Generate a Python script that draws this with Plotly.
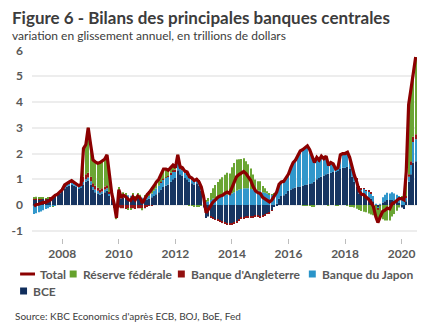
import pandas as pd
import plotly.graph_objects as go

# ---- data: year-on-year change in balance sheets, trillions of USD (monthly, Jan 2007 - Jul 2020)
months = pd.date_range("2007-01-01", periods=163, freq="MS")

total = [
    -0.05, 0.02, 0.03, 0.08, 0.10, 0.10, 0.15, 0.20, 0.30, 0.38, 0.42, 0.52,   # 2007
    0.60, 0.78, 0.85, 0.90, 0.95, 0.88, 0.82, 0.75, 0.80, 2.20, 2.35, 3.00,    # 2008
    2.35, 1.75, 1.68, 1.62, 1.65, 1.72, 1.78, 1.95, 1.10, 0.45, 0.05, -0.50,   # 2009
    0.60, 0.28, 0.38, 0.32, 0.22, 0.18, 0.32, 0.20, 0.35, 0.28, 0.08, 0.25,    # 2010
    0.40, 0.50, 0.60, 0.75, 0.90, 1.00, 1.20, 1.40, 1.40, 1.35, 1.45, 1.55,    # 2011
    1.45, 1.95, 1.50, 1.45, 1.32, 1.28, 1.10, 1.05, 0.95, 1.00, 0.90, 0.70,    # 2012
    0.30, -0.30, -0.18, 0.00, 0.12, 0.20, 0.30, 0.35, 0.38, 0.45, 0.50, 0.45,  # 2013
    0.70, 0.90, 1.10, 1.18, 1.25, 1.30, 1.22, 1.10, 0.95, 0.72, 0.55, 0.48,    # 2014
    0.45, 0.30, 0.25, 0.20, 0.12, 0.20, 0.35, 0.50, 0.80, 0.90, 0.92, 1.05,    # 2015
    1.20, 1.45, 1.65, 1.75, 1.90, 2.10, 2.15, 2.22, 2.30, 2.15, 1.85, 1.65,    # 2016
    1.85, 1.75, 1.90, 1.80, 1.90, 1.55, 1.65, 1.60, 1.40, 1.45, 1.95, 2.00,    # 2017
    2.00, 2.05, 1.85, 1.45, 1.15, 0.90, 0.55, 0.42, 0.40, 0.30, 0.22, 0.10,    # 2018
    -0.05, -0.45, -0.68, -0.45, -0.25, -0.20, -0.12, -0.15, 0.05, 0.10, 0.18, 0.25,  # 2019
    0.25, 0.20, 1.30, 3.90, 4.50, 5.15, 5.75,                                  # 2020
]

ecb = [
    0.22, 0.22, 0.22, 0.23, 0.24, 0.22, 0.25, 0.26, 0.33, 0.37, 0.39, 0.44,
    0.55, 0.65, 0.72, 0.75, 0.78, 0.75, 0.70, 0.65, 0.68, 0.80, 0.90, 0.95,
    0.80, 0.60, 0.50, 0.45, 0.40, 0.45, 0.50, 0.55, 0.35, 0.25, 0.10, -0.20,
    0.30, 0.25, 0.28, 0.30, 0.30, 0.28, 0.30, 0.25, 0.28, 0.25, 0.20, 0.22,
    0.20, 0.25, 0.30, 0.35, 0.42, 0.50, 0.60, 0.70, 0.75, 0.80, 0.90, 1.00,
    1.05, 1.35, 1.20, 1.15, 1.05, 1.00, 0.90, 0.85, 0.80, 0.85, 0.75, 0.55,
    -0.10, -0.50, -0.45, -0.45, -0.50, -0.55, -0.55, -0.60, -0.65, -0.68, -0.70, -0.72,
    -0.72, -0.68, -0.62, -0.55, -0.50, -0.48, -0.45, -0.45, -0.45, -0.45, -0.42, -0.42,
    -0.45, -0.42, -0.38, -0.33, -0.30, -0.20, -0.08, 0.05, 0.25, 0.35, 0.38, 0.45,
    0.55, 0.60, 0.65, 0.68, 0.70, 0.72, 0.75, 0.78, 0.80, 0.82, 0.85, 0.90,
    1.00, 1.05, 1.10, 1.15, 1.20, 1.22, 1.25, 1.28, 1.30, 1.32, 1.40, 1.45,
    1.45, 1.48, 1.40, 1.10, 0.90, 0.70, 0.45, 0.40, 0.38, 0.35, 0.30, 0.25,
    0.15, 0.00, -0.10, 0.00, 0.10, 0.15, 0.20, 0.20, 0.20, 0.15, 0.15, 0.10,
    -0.10, -0.15, 0.15, 0.90, 1.20, 1.65, 1.70,
]

boj = [
    -0.35, -0.32, -0.28, -0.25, -0.20, -0.15, -0.12, -0.08, -0.05, -0.02, 0.00, 0.03,
    0.05, 0.08, 0.10, 0.10, 0.10, 0.08, 0.08, 0.06, 0.06, 0.10, 0.10, 0.12,
    0.12, 0.10, 0.10, 0.10, 0.08, 0.08, 0.10, 0.10, 0.08, 0.05, 0.05, 0.05,
    0.08, 0.08, 0.10, 0.10, 0.08, 0.08, 0.10, 0.08, 0.10, 0.10, 0.08, 0.10,
    0.10, 0.10, 0.15, 0.20, 0.22, 0.25, 0.28, 0.30, 0.30, 0.30, 0.30, 0.30,
    0.25, 0.30, 0.20, 0.20, 0.20, 0.20, 0.15, 0.15, 0.15, 0.15, 0.15, 0.15,
    0.18, 0.12, 0.15, 0.20, 0.25, 0.25, 0.30, 0.32, 0.35, 0.40, 0.40, 0.45,
    0.45, 0.50, 0.55, 0.60, 0.62, 0.65, 0.65, 0.65, 0.62, 0.60, 0.55, 0.55,
    0.55, 0.50, 0.48, 0.45, 0.42, 0.40, 0.42, 0.45, 0.50, 0.52, 0.52, 0.55,
    0.63, 0.83, 0.98, 1.05, 1.18, 1.36, 1.38, 1.42, 1.48, 1.30, 1.00, 0.75,
    0.80, 0.65, 0.75, 0.60, 0.65, 0.30, 0.35, 0.27, 0.07, 0.10, 0.50, 0.50,
    0.50, 0.55, 0.45, 0.38, 0.30, 0.30, 0.25, 0.22, 0.25, 0.20, 0.22, 0.20,
    0.20, 0.05, -0.05, 0.05, 0.20, 0.25, 0.28, 0.25, 0.30, 0.30, 0.25, 0.25,
    0.20, 0.20, 0.15, 0.20, 0.35, 0.80, 0.85,
]

boe = [
    0.02, 0.02, 0.02, 0.02, 0.02, 0.02, 0.02, 0.02, 0.02, 0.03, 0.03, 0.03,
    0.03, 0.03, 0.03, 0.03, 0.04, 0.04, 0.04, 0.04, 0.05, 0.20, 0.20, 0.18,
    0.18, 0.15, 0.15, 0.12, 0.12, 0.12, 0.12, 0.12, 0.08, 0.00, -0.05, -0.15,
    -0.10, -0.12, -0.12, -0.15, -0.15, -0.15, -0.12, -0.15, -0.12, -0.12, -0.15, -0.12,
    -0.05, -0.03, -0.02, 0.00, 0.00, 0.00, 0.02, 0.02, 0.02, 0.03, 0.05, 0.05,
    0.07, 0.10, 0.08, 0.08, 0.07, 0.07, 0.07, 0.06, 0.05, 0.05, 0.04, 0.03,
    0.02, 0.00, 0.00, -0.02, -0.03, -0.03, -0.04, -0.05, -0.05, -0.05, -0.05, -0.05,
    -0.05, -0.05, -0.05, -0.05, -0.04, -0.04, -0.03, -0.03, -0.02, -0.02, -0.02, -0.02,
    -0.02, -0.02, -0.02, -0.01, -0.01, -0.01, 0.00, 0.00, 0.00, 0.00, 0.00, 0.00,
    0.02, 0.02, 0.02, 0.02, 0.02, 0.02, 0.04, 0.04, 0.04, 0.05, 0.05, 0.05,
    0.05, 0.05, 0.05, 0.05, 0.05, 0.05, 0.05, 0.05, 0.05, 0.05, 0.05, 0.05,
    0.05, 0.05, 0.05, 0.05, 0.05, 0.04, 0.04, 0.03, 0.03, 0.03, 0.03, 0.02,
    0.00, -0.02, -0.03, -0.02, 0.00, 0.00, 0.00, 0.00, 0.00, 0.00, 0.00, 0.00,
    0.00, 0.00, 0.05, 0.10, 0.15, 0.20, 0.20,
]

fed = [
    0.06, 0.08, 0.05, 0.05, 0.03, 0.02, 0.02, 0.00, -0.02, 0.00, 0.02, 0.02,
    0.00, 0.02, 0.00, 0.02, 0.03, 0.01, 0.00, 0.00, 0.01, 1.10, 1.15, 1.75,
    1.25, 0.90, 0.93, 0.95, 1.05, 1.07, 1.06, 1.18, 0.59, 0.15, -0.05, -0.20,
    0.32, 0.07, 0.12, 0.07, -0.01, -0.03, 0.04, 0.02, 0.09, 0.05, -0.05, 0.05,
    0.15, 0.18, 0.17, 0.20, 0.26, 0.25, 0.30, 0.38, 0.33, 0.22, 0.20, 0.20,
    0.08, 0.20, 0.02, 0.02, 0.00, 0.01, -0.02, -0.01, -0.05, -0.05, -0.04, -0.03,
    0.20, 0.08, 0.12, 0.27, 0.40, 0.53, 0.59, 0.68, 0.73, 0.78, 0.85, 0.77,
    1.02, 1.13, 1.22, 1.18, 1.17, 1.17, 1.05, 0.93, 0.80, 0.59, 0.44, 0.37,
    0.37, 0.24, 0.17, 0.09, 0.01, 0.01, 0.01, 0.00, 0.05, 0.03, 0.02, 0.05,
    0.00, 0.00, 0.00, 0.00, 0.00, 0.00, -0.02, -0.02, -0.02, -0.02, -0.05, -0.05,
    0.00, 0.00, 0.00, 0.00, 0.00, -0.02, 0.00, 0.00, -0.02, -0.02, 0.00, 0.00,
    0.00, -0.03, -0.05, -0.08, -0.10, -0.14, -0.19, -0.23, -0.26, -0.28, -0.33, -0.37,
    -0.40, -0.48, -0.50, -0.48, -0.55, -0.60, -0.60, -0.60, -0.45, -0.35, -0.22, -0.10,
    0.15, 0.15, 0.95, 2.70, 2.80, 2.50, 3.00,
]

y_ticks = [-1, 0, 1, 2, 3, 4, 5, 6]
y_tick_labels = ["-1", "0", "1", "2", "3", "4", "5", "6"]
x_tick_years = [2008, 2010, 2012, 2014, 2016, 2018, 2020]

# ---- styling
C_FED = "#65a22c"
C_BOE = "#921010"
C_BOJ = "#2a94c9"
C_ECB = "#102e5c"
C_TOTAL = "#8b0000"
C_TEXT = "#595959"
C_TITLE = "#3c3c3c"
FONT = "Lato"

W, H = 432, 334
ML, MR, MT, MB = 29, 15, 50, 96
PW, PH = W - ML - MR, H - MT - MB


def paper_x(px):
    return (px - ML) / PW


def paper_y(py):
    return 1 - (py - MT) / PH


fig = go.Figure()

# stacked bars, drawn bottom-up: BCE, BoJ, BoE, Fed
# (opacity just below 1 keeps the thin monthly bars on whole pixels, leaving white gaps)
series = [
    ("BCE", ecb, C_ECB),
    ("Banque du Japon", boj, C_BOJ),
    ("Banque d'Angleterre", boe, C_BOE),
    ("Réserve fédérale", fed, C_FED),
]
for name, vals, col in series:
    fig.add_trace(go.Bar(x=months, y=vals, name=name,
                         marker=dict(color=col, opacity=0.97, line=dict(width=0)),
                         showlegend=False))

fig.add_trace(go.Scatter(x=months, y=total, name="Total", mode="lines",
                         line=dict(color=C_TOTAL, width=3.2), showlegend=False))

tick_font = dict(family=FONT, size=12, color=C_TEXT, weight="bold")

fig.update_layout(
    width=W, height=H, autosize=False,
    margin=dict(l=ML, r=MR, t=MT, b=MB, pad=0),
    paper_bgcolor="white", plot_bgcolor="white",
    barmode="relative", bargap=0.5,
    showlegend=False,
    font=dict(family=FONT, color=C_TEXT),
    xaxis=dict(
        type="date",
        range=["2006-12-06", "2020-07-18"],
        tickvals=[f"{y}-01-01" for y in x_tick_years],
        ticktext=[str(y) for y in x_tick_years],
        ticks="outside", ticklen=5, tickwidth=1, tickcolor="#bdbdbd",
        showgrid=False, showline=False, zeroline=False,
        tickfont=tick_font,
    ),
    yaxis=dict(
        range=[-1.28, 6.02],
        tickvals=y_ticks, ticktext=y_tick_labels,
        showgrid=True, gridcolor="#ededed", gridwidth=2,
        zeroline=False, showline=False, ticks="",
        ticklabelstandoff=8,
        tickfont=tick_font,
    ),
)

annotations = [
    dict(text="<b>Figure 6 - Bilans des principales banques centrales</b>",
         x=paper_x(7), y=paper_y(18), font=dict(family=FONT, size=17, color=C_TITLE)),
    dict(text="variation en glissement annuel, en trillions de dollars",
         x=paper_x(7), y=paper_y(36), font=dict(family=FONT, size=12, color=C_TITLE)),
    dict(text="Source: KBC Economics d'après ECB, BOJ, BoE, Fed",
         x=paper_x(10), y=paper_y(316), font=dict(family=FONT, size=10, color=C_TITLE)),
]

# legend drawn as keys + labels
legend_font = dict(family=FONT, size=12, color=C_TEXT, weight="bold")
legend_items = [
    ("Total", None, 35, 274),
    ("Réserve fédérale", C_FED, 67, 274),
    ("Banque d'Angleterre", C_BOE, 176, 274),
    ("Banque du Japon", C_BOJ, 308, 274),
    ("BCE", C_ECB, 17, 291),
]
shapes = []
for label, col, x0, yc in legend_items:
    if col is None:
        shapes.append(dict(type="line", xref="paper", yref="paper",
                           x0=paper_x(17), x1=paper_x(32), y0=paper_y(yc), y1=paper_y(yc),
                           line=dict(color=C_TOTAL, width=3)))
        tx = x0
    else:
        shapes.append(dict(type="rect", xref="paper", yref="paper",
                           x0=paper_x(x0), x1=paper_x(x0 + 7), y0=paper_y(yc - 3.5), y1=paper_y(yc + 3.5),
                           fillcolor=col, line=dict(width=0)))
        tx = x0 + 11
    annotations.append(dict(text=label, x=paper_x(tx), y=paper_y(yc), font=legend_font))

for a in annotations:
    a.update(xref="paper", yref="paper", xanchor="left", yanchor="middle", showarrow=False)

fig.update_layout(annotations=annotations, shapes=shapes)

fig.write_html("out.html")
